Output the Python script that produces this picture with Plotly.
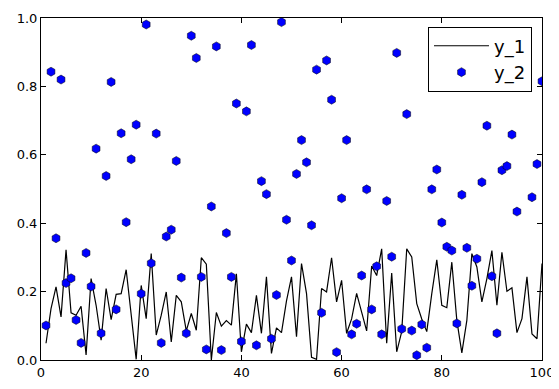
import plotly.graph_objects as go

x_vals = list(range(1, 101))

y_1 = [0.049, 0.15, 0.214, 0.126, 0.322, 0.138, 0.131, 0.157, 0.015, 0.238,
       0.16, 0.058, 0.209, 0.118, 0.192, 0.194, 0.264, 0.13, 0.002, 0.218,
       0.121, 0.311, 0.073, 0.131, 0.199, 0.053, 0.189, 0.170, 0.085, 0.136,
       0.087, 0.299, 0.280, 0.0, 0.139, 0.099, 0.115, 0.102, 0.252, 0.024,
       0.105, 0.080, 0.189, 0.078, 0.243, 0.019, 0.094, 0.080, 0.173, 0.243,
       0.068, 0.282, 0.194, 0.008, 0.002, 0.209, 0.199, 0.299, 0.170, 0.233,
       0.078, 0.12, 0.195, 0.14, 0.085, 0.275, 0.247, 0.325, 0.049, 0.254,
       0.024, 0.083, 0.325, 0.301, 0.165, 0.12, 0.083, 0.194, 0.293, 0.160,
       0.153, 0.286, 0.116, 0.021, 0.116, 0.311, 0.272, 0.170, 0.238, 0.320,
       0.160, 0.315, 0.201, 0.211, 0.080, 0.121, 0.243, 0.076, 0.062, 0.282]

y_2 = [0.101, 0.843, 0.356, 0.820, 0.225, 0.239, 0.117, 0.050, 0.313, 0.215,
       0.618, 0.078, 0.538, 0.813, 0.148, 0.663, 0.403, 0.587, 0.688, 0.194,
       0.981, 0.283, 0.662, 0.050, 0.361, 0.381, 0.582, 0.241, 0.078, 0.948,
       0.883, 0.243, 0.031, 0.449, 0.917, 0.029, 0.371, 0.243, 0.750, 0.054,
       0.727, 0.921, 0.043, 0.523, 0.485, 0.062, 0.190, 0.988, 0.410, 0.291,
       0.544, 0.643, 0.578, 0.394, 0.849, 0.138, 0.876, 0.761, 0.023, 0.473,
       0.643, 0.075, 0.106, 0.247, 0.499, 0.148, 0.274, 0.075, 0.465, 0.302,
       0.898, 0.091, 0.719, 0.086, 0.014, 0.104, 0.036, 0.499, 0.557, 0.402,
       0.331, 0.320, 0.107, 0.483, 0.328, 0.217, 0.296, 0.520, 0.685, 0.245,
       0.078, 0.555, 0.567, 0.659, 0.434, 0.88, 0.84, 0.476, 0.573, 0.815]

x_ticks = [0, 20, 40, 60, 80, 100]
y_ticks = [0.0, 0.2, 0.4, 0.6, 0.8, 1.0]

fig = go.Figure()
fig.add_trace(go.Scatter(x=x_vals, y=y_1, mode="lines", name="y_1",
                         line=dict(color="black", width=1.2)))
fig.add_trace(go.Scatter(x=x_vals, y=y_2, mode="markers", name="y_2",
                         marker=dict(symbol="hexagon", size=9, color="#0000ff",
                                     line=dict(color="black", width=0.5))))

axis_common = dict(showline=True, linecolor="black", linewidth=1, mirror="ticks",
                   ticks="inside", ticklen=5, tickwidth=1, tickcolor="black",
                   showgrid=False, zeroline=False, automargin=False,
                   tickfont=dict(family="DejaVu Sans", size=13, color="black"))

fig.update_xaxes(range=[0, 100], tickvals=x_ticks, ticktext=[str(v) for v in x_ticks],
                 **axis_common)
fig.update_yaxes(range=[0, 1], tickvals=y_ticks, ticktext=["%.1f" % v for v in y_ticks],
                 **axis_common)

fig.update_layout(
    width=559, height=389,
    margin=dict(l=33, r=25, t=10, b=37),
    plot_bgcolor="white", paper_bgcolor="white",
    font=dict(family="DejaVu Sans", size=13, color="black"),
    legend=dict(x=0.98, y=0.975, xanchor="right", yanchor="top",
                bgcolor="white", bordercolor="black", borderwidth=1,
                itemwidth=55,
                font=dict(family="DejaVu Sans", size=18, color="black"),
                tracegroupgap=0),
)

fig.write_html("out.html")
